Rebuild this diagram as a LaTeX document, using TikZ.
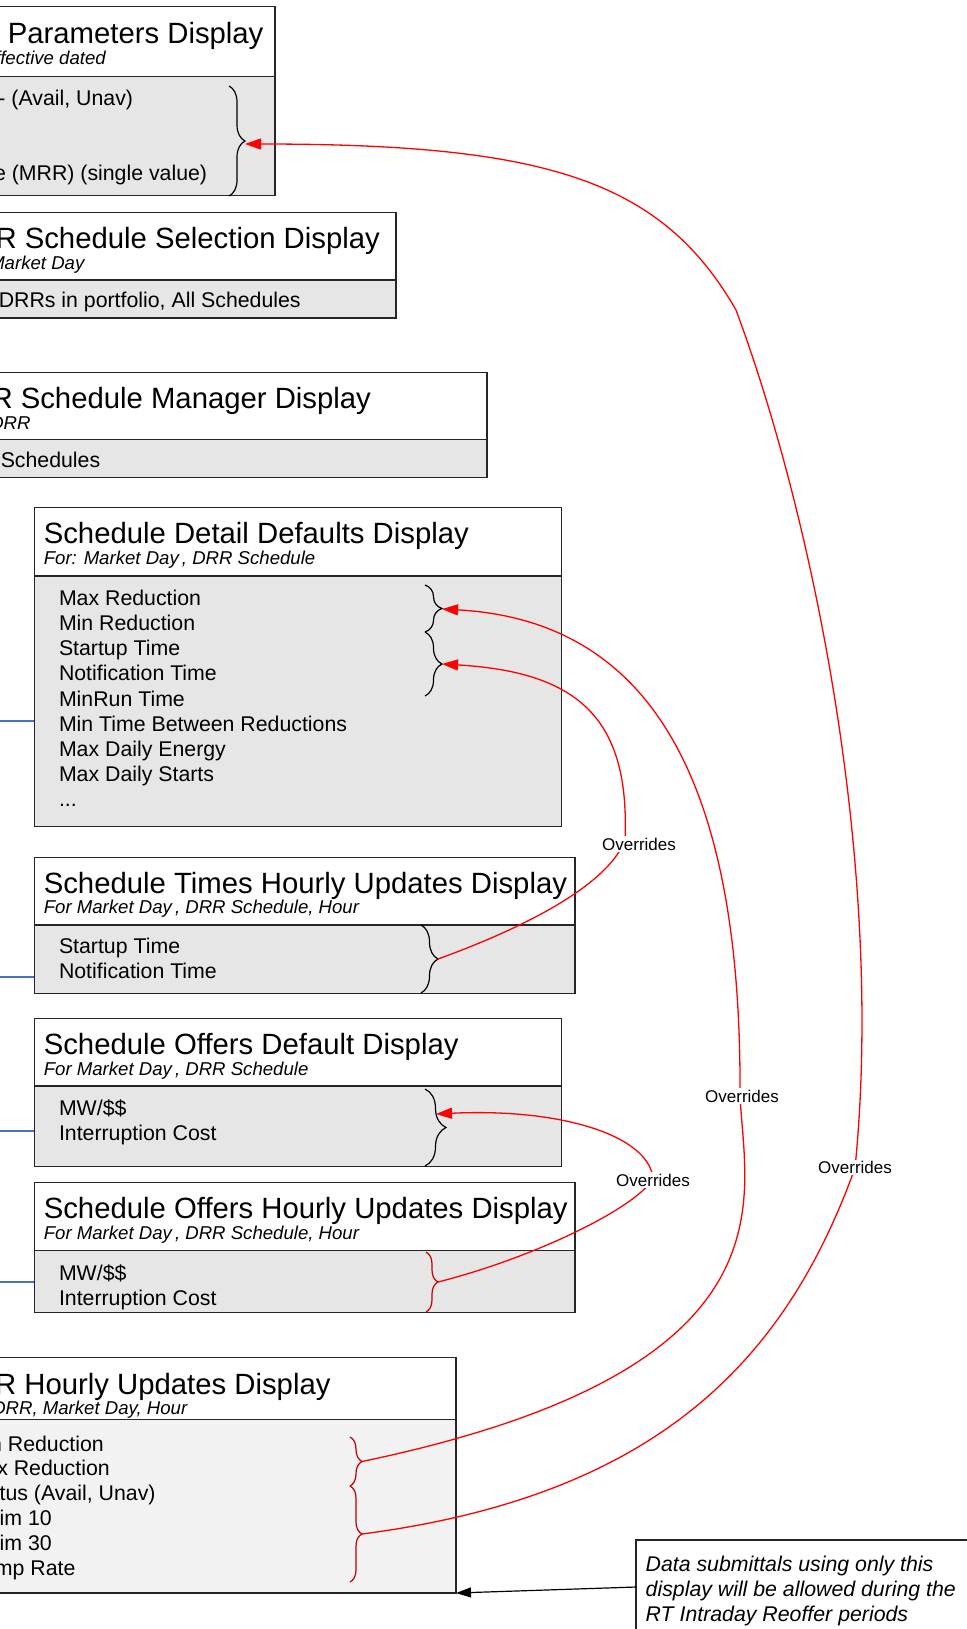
\documentclass[tikz,border=0pt]{standalone}
\usepackage{fontspec}
\setmainfont{Liberation Sans}
\usetikzlibrary{arrows.meta,decorations.pathreplacing}

\definecolor{bodygray}{RGB}{230,230,230}
\definecolor{bodylight}{RGB}{242,242,242}
\definecolor{edgegray}{RGB}{38,38,38}
\definecolor{feedblue}{RGB}{68,114,196}
\definecolor{bracered}{RGB}{192,0,0}

\begin{document}
\begin{tikzpicture}[x=1pt, y=-1pt,
		hdr/.style={draw=edgegray, line width=1.5pt, fill=white, anchor=north west, inner sep=0pt, outer sep=0pt},
		bdy/.style={hdr, fill=bodygray},
		ttl/.style={anchor=base west, inner sep=0pt, font=\fontsize{29.3}{35}\selectfont},
		sub/.style={anchor=base west, inner sep=0pt, font=\fontsize{18.6}{22}\selectfont\itshape},
		lst/.style={anchor=base west, inner sep=0pt, align=left, font=\fontsize{21.3}{25.2}\selectfont},
		brc/.style={decorate, line width=1.2pt},
		ovr/.style={draw=red, line width=1.3pt, -{Triangle[length=16pt,width=11pt]}},
		ovrlbl/.style={fill=white, inner sep=1.5pt, font=\fontsize{17}{20}\selectfont},
		feed/.style={draw=feedblue, line width=2pt}
		]
		
		\useasboundingbox (0,0) rectangle (966,1629);
		
		% parameters display
		\node[hdr, minimum width=349pt, minimum height=70pt] (parHd) at (-74,6.7) {};
		\node[bdy, minimum width=349pt, minimum height=119pt] (parBd) at (parHd.south west) {};
		\node[ttl] (parTtl) at (-64,43.5) {DRR Parameters Display};
		\node[sub] (parSub) at (-66,65) {DRR, effective dated};
		\node[lst] (parL1) at (-68,106) {Status - (Avail, Unav)};
		\node[lst] (parL4) at (-102,181) {Ramp Rate (MRR) (single value)};
		\draw[brc, decoration={brace, amplitude=16pt}] (229,86) -- (229,196);
		\coordinate (parTip) at (245,144);
		
		% schedule selection
		\node[hdr, minimum width=451pt, minimum height=67.3pt] (selHd) at (-55,212.7) {};
		\node[bdy, minimum width=451pt, minimum height=38pt] (selBd) at (selHd.south west) {};
		\node[ttl] (selTtl) at (-47,248.5) {DRR Schedule Selection Display};
		\node[sub] (selSub) at (-44,269.5) {For Market Day};
		\node[lst] (selLst) at (-31,307.5) {All DRRs in portfolio, All Schedules};
		
		% schedule manager
		\node[hdr, minimum width=547pt, minimum height=67pt] (mgrHd) at (-60,372.3) {};
		\node[bdy, minimum width=547pt, minimum height=38pt] (mgrBd) at (mgrHd.south west) {};
		\node[ttl] (mgrTtl) at (-51,408.3) {DRR Schedule Manager Display};
		\node[sub] (mgrSub) at (-43,429) {For DRR};
		\node[lst] (mgrLst) at (-29,467.5) {All Schedules};
		
		% schedule detail defaults (list nodes sit on their last line)
		\node[hdr, minimum width=527pt, minimum height=68.7pt] (detailHd) at (34.4,507.3) {};
		\node[bdy, minimum width=527pt, minimum height=250.7pt] (detailBd) at (detailHd.south west) {};
		\node[ttl] (detailTtl) at (43.6,543.3) {Schedule Detail Defaults Display};
		\node[sub] (detailSub) at (43.6,564.3) {For: Market Day\,, DRR Schedule};
		\node[lst] (detailLst) at (58.8,806.9) {Max Reduction\\Min Reduction\\Startup Time\\Notification Time\\MinRun Time\\Min Time Between Reductions\\Max Daily Energy\\Max Daily Starts\\...};
		\draw[brc, decoration={brace, amplitude=17pt}] (425,585) -- (425,632);
		\draw[brc, decoration={brace, amplitude=17pt}] (425,632) -- (425,696);
		\coordinate (detailUp) at (442,609);
		\coordinate (detailLo) at (442,664);
		
		% schedule times hourly updates
		\node[hdr, minimum width=540.6pt, minimum height=67.7pt] (timesHd) at (34.4,857.3) {};
		\node[bdy, minimum width=540.6pt, minimum height=68.3pt] (timesBd) at (timesHd.south west) {};
		\node[ttl] (timesTtl) at (43.6,893.3) {Schedule Times Hourly Updates Display};
		\node[sub] (timesSub) at (43.6,913.5) {For Market Day\,, DRR Schedule, Hour};
		\node[lst] (timesLst) at (58.8,978.2) {Startup Time\\Notification Time};
		\draw[brc, decoration={brace, amplitude=17pt}] (421,925) -- (421,993);
		\coordinate (timesTip) at (438,959);
		
		% schedule offers default
		\node[hdr, minimum width=527pt, minimum height=67.7pt] (offDefHd) at (34.4,1018.3) {};
		\node[bdy, minimum width=527pt, minimum height=80.7pt] (offDefBd) at (offDefHd.south west) {};
		\node[ttl] (offDefTtl) at (43.6,1054.3) {Schedule Offers Default Display};
		\node[sub] (offDefSub) at (43.6,1075.5) {For Market Day\,, DRR Schedule};
		\node[lst] (offDefLst) at (58.8,1140.2) {MW/\$\$\\Interruption Cost};
		\draw[brc, decoration={brace, amplitude=21pt}] (425,1089) -- (425,1166);
		\coordinate (offDefIn) at (436,1114);
		
		% schedule offers hourly updates
		\node[hdr, minimum width=540.6pt, minimum height=68pt] (offHrHd) at (34.4,1182.7) {};
		\node[bdy, minimum width=540.6pt, minimum height=62pt] (offHrBd) at (offHrHd.south west) {};
		\node[ttl] (offHrTtl) at (43.6,1218.5) {Schedule Offers Hourly Updates Display};
		\node[sub] (offHrSub) at (43.6,1239.5) {For Market Day\,, DRR Schedule, Hour};
		\node[lst] (offHrLst) at (58.8,1305.9) {MW/\$\$\\Interruption Cost};
		\draw[brc, bracered, decoration={brace, amplitude=12pt}] (426,1252) -- (426,1312);
		\coordinate (offHrTip) at (438,1282);
		
		% hourly updates
		\node[hdr, minimum width=516pt, minimum height=62pt] (hourlyHd) at (-60,1357.5) {};
		\node[bdy, fill=bodylight, minimum width=516pt, minimum height=173.5pt] (hourlyBd) at (hourlyHd.south west) {};
		\node[ttl] (hourlyTtl) at (-47.4,1394) {DRR Hourly Updates Display};
		\node[sub] (hourlySub) at (-41,1414) {For DRR, Market Day, Hour};
		\node[lst, font=\fontsize{21.3}{24.9}\selectfont] (hourlyLst) at (-32.5,1575.5) {Min Reduction\\Max Reduction\\Status (Avail, Unav)\\Claim 10\\Claim 30\\Ramp Rate};
		\draw[brc, bracered, decoration={brace, amplitude=12pt}] (350,1437) -- (350,1486);
		\draw[brc, bracered, decoration={brace, amplitude=12pt}] (350,1486) -- (350,1582);
		\coordinate (hourlyUp) at (362,1461.5);
		\coordinate (hourlyLo) at (362,1534);
		
		% note
		\node[hdr, line width=1.2pt, minimum width=340pt, minimum height=94pt] (notebox) at (636,1540) {};
		\node[lst, font=\fontsize{21.3}{25.3}\selectfont\itshape] (noteTxt) at (645.5,1621.6) {Data submittals using only this\\display will be allowed during the\\RT Intraday Reoffer periods};
		\draw[line width=1.2pt, -{Triangle[length=15pt,width=10pt]}] (notebox.west) -- (hourlyBd.south east);
		
		% incoming links
		\coordinate (feedDetail) at (-5,720.5);
		\coordinate (feedTimes) at (-5,976.5);
		\coordinate (feedOffDef) at (-5,1130.5);
		\coordinate (feedOffHr) at (-5,1282.3);
		\draw[feed] (feedDetail) -- (feedDetail -| detailBd.west);
		\draw[feed] (feedTimes) -- (feedTimes -| timesBd.west);
		\draw[feed] (feedOffDef) -- (feedOffDef -| offDefBd.west);
		\draw[feed] (feedOffHr) -- (feedOffHr -| offHrBd.west);
		
		% overrides
		\draw[ovr] (hourlyLo) .. controls (662,1495) and (787,1356) .. (855,1168)
			.. controls (885,868) and (813,517) .. (736,310)
			.. controls (661,179.5) and (545,144) .. (parTip);
		\draw[ovr] (hourlyUp) .. controls (800,1370) and (745,1200) .. (740,1096)
			.. controls (742,766) and (642,620) .. (detailUp);
		\draw[ovr] (timesTip) .. controls (540,922) and (610,880) .. (625,840)
			.. controls (630,720) and (580,672) .. (detailLo);
		\draw[ovr] (offHrTip) .. controls (540,1256) and (640,1205) .. (653,1178)
			.. controls (648,1135) and (560,1108) .. (offDefIn);
		
		\node[ovrlbl] (ovr1) at (639,844) {Overrides};
		\node[ovrlbl] (ovr2) at (742,1096) {Overrides};
		\node[ovrlbl] (ovr3) at (653,1180) {Overrides};
		\node[ovrlbl] (ovr4) at (855,1167.5) {Overrides};
	\end{tikzpicture}
\end{document}
